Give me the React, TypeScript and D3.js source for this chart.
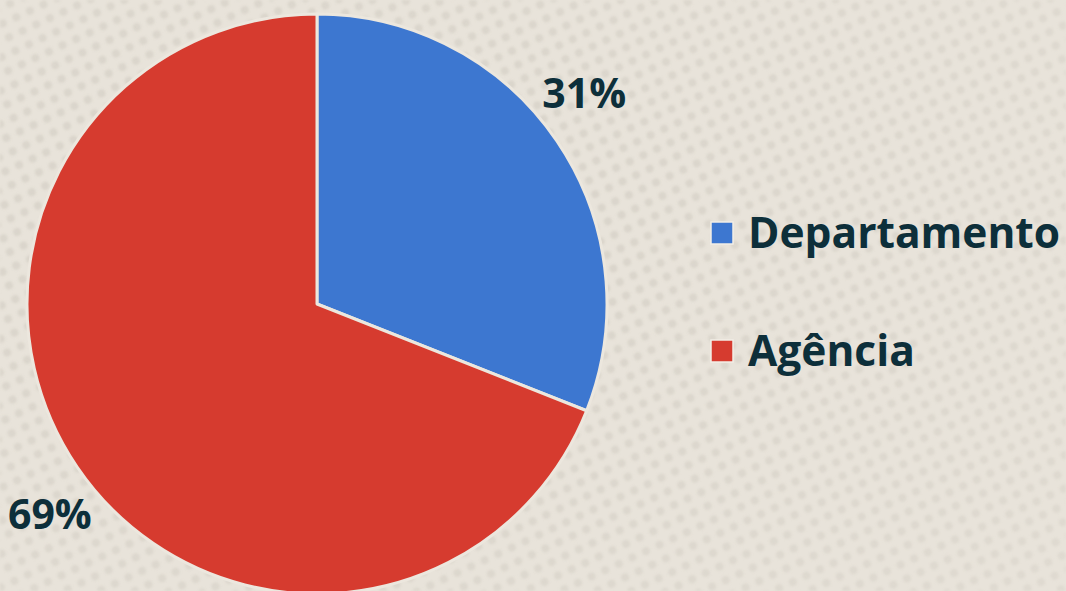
import React, { useEffect, useRef } from 'react';
import * as d3 from 'd3';

const categories = ['Departamento', 'Agência'];
const values = [31, 69];
const colors = ['#3d77d0', '#d63b2f'];

const W = 1066;
const H = 591;

const App = () => {
  const svgRef = useRef<SVGSVGElement>(null);

  useEffect(() => {
    const svg = d3.select(svgRef.current).attr('width', W).attr('height', H);
    svg.selectAll('*').remove();

    // background with halftone dots
    const defs = svg.append('defs');
    const pat = defs.append('pattern')
      .attr('id', 'dots')
      .attr('width', 15)
      .attr('height', 15)
      .attr('patternUnits', 'userSpaceOnUse')
      .attr('patternTransform', 'rotate(-25)');
    pat.append('circle').attr('cx', 7.5).attr('cy', 7.5).attr('r', 4).attr('fill', '#d8d3c9');

    const grad = defs.append('radialGradient').attr('id', 'fade')
      .attr('cx', '0.3').attr('cy', '0.4').attr('r', '0.9');
    grad.append('stop').attr('offset', '0%').attr('stop-color', '#fff').attr('stop-opacity', 1);
    grad.append('stop').attr('offset', '100%').attr('stop-color', '#fff').attr('stop-opacity', 0.55);
    defs.append('mask').attr('id', 'dotmask')
      .append('rect').attr('width', W).attr('height', H).attr('fill', 'url(#fade)');
    defs.append('filter').attr('id', 'soft')
      .append('feGaussianBlur').attr('stdDeviation', 0.8);

    svg.append('rect').attr('width', W).attr('height', H).attr('fill', '#e8e3da');
    svg.append('rect').attr('width', W).attr('height', H)
      .attr('fill', 'url(#dots)').attr('mask', 'url(#dotmask)').attr('filter', 'url(#soft)');

    const data = categories.map((c, i) => ({ name: c, value: values[i], color: colors[i] }));
    const cx = 317;
    const cy = 304;
    const radius = 290;

    const pie = d3.pie<any>().value(d => d.value).sort(null);
    const arc = d3.arc<any>().innerRadius(0).outerRadius(radius);

    const g = svg.append('g').attr('transform', `translate(${cx},${cy})`);
    const arcs = pie(data);

    g.selectAll('path')
      .data(arcs)
      .enter().append('path')
      .attr('d', arc)
      .attr('fill', d => d.data.color)
      .attr('stroke', '#ece7de')
      .attr('stroke-width', 3)
      .attr('stroke-linejoin', 'round');

    // outside labels, slightly ahead of the slice middle
    const labelPos = (d: any) => {
      const a = (d.startAngle + d.endAngle) / 2 - 0.07;
      const r = 340;
      return [Math.sin(a) * r, -Math.cos(a) * r];
    };

    g.selectAll('text.lbl')
      .data(arcs)
      .enter().append('text')
      .attr('class', 'lbl')
      .attr('transform', d => `translate(${labelPos(d)})`)
      .attr('text-anchor', 'middle')
      .attr('dy', '0.36em')
      .attr('fill', '#0d2f3a')
      .attr('font-family', '"Open Sans", sans-serif')
      .attr('font-weight', 700)
      .attr('font-size', 41)
      .text(d => `${d.data.value}%`);

    // legend
    const legend = svg.append('g').attr('transform', 'translate(711,233)');
    const items = legend.selectAll('g')
      .data(data)
      .enter().append('g')
      .attr('transform', (d, i) => `translate(0,${i * 118})`);

    items.append('rect')
      .attr('x', 0).attr('y', -11)
      .attr('width', 22).attr('height', 22)
      .attr('fill', d => d.color)
      .attr('stroke', '#f2eee6')
      .attr('stroke-width', 1.5);

    items.append('text')
      .attr('x', 37)
      .attr('y', 0)
      .attr('dy', '0.36em')
      .attr('fill', '#0d2f3a')
      .attr('font-family', '"Open Sans", sans-serif')
      .attr('font-weight', 700)
      .attr('font-size', 42.5)
      .text(d => d.name);
  }, []);

  return (
    <svg ref={svgRef} style={{ position: 'fixed', left: 0, top: 0, display: 'block' }}></svg>
  );
};

export default App;
